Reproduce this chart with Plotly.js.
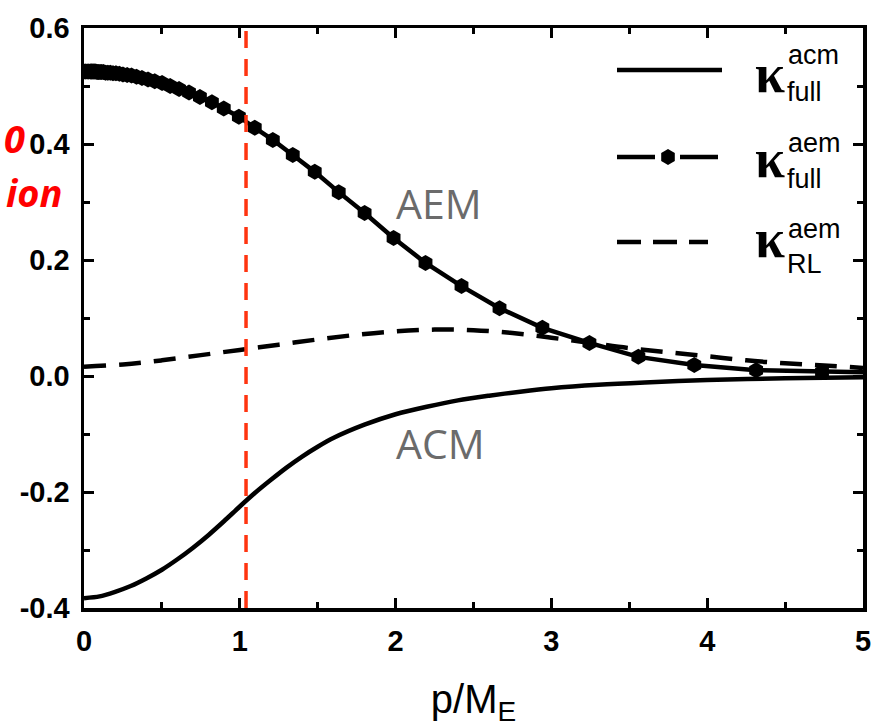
<!DOCTYPE html>
<html><head><meta charset="utf-8">
<script src="https://cdn.plot.ly/plotly-3.0.1.min.js"></script>
<style>html,body{margin:0;padding:0;background:#fff}#chart{width:875px;height:727px}</style>
</head><body><div id="chart"></div>
<script>
// kappa_full^aem (solid line with hexagon markers)
const aemX = [0.000, 0.010, 0.020, 0.030, 0.040, 0.046, 0.051, 0.057, 0.063, 0.069, 0.076, 0.084, 0.093, 0.103, 0.113, 0.125, 0.138, 0.153, 0.169, 0.186, 0.205, 0.227, 0.250, 0.277, 0.305, 0.337, 0.372, 0.411, 0.454, 0.501, 0.553, 0.610, 0.674, 0.744, 0.821, 0.897, 0.994, 1.096, 1.212, 1.340, 1.481, 1.635, 1.801, 1.987, 2.192, 2.423, 2.667, 2.942, 3.244, 3.558, 3.917, 4.314, 4.737, 5.230];
const aemY = [0.525, 0.525, 0.525, 0.525, 0.525, 0.525, 0.525, 0.525, 0.525, 0.525, 0.525, 0.524, 0.524, 0.524, 0.524, 0.524, 0.523, 0.523, 0.523, 0.522, 0.522, 0.521, 0.520, 0.519, 0.518, 0.516, 0.514, 0.511, 0.508, 0.505, 0.500, 0.495, 0.489, 0.481, 0.472, 0.461, 0.447, 0.428, 0.407, 0.381, 0.352, 0.317, 0.281, 0.238, 0.195, 0.155, 0.117, 0.083, 0.057, 0.033, 0.019, 0.010, 0.007, 0.005];
// kappa_full^acm (solid line)
const acmX = [0.0, 0.1, 0.2, 0.3, 0.4, 0.5, 0.6, 0.7, 0.8, 0.9, 1.0, 1.1, 1.2, 1.3, 1.4, 1.5, 1.6, 1.8, 2.0, 2.2, 2.4, 2.6, 2.8, 3.0, 3.3, 3.6, 4.0, 4.5, 5.0];
const acmY = [-0.383, -0.380, -0.372, -0.362, -0.349, -0.334, -0.316, -0.296, -0.274, -0.250, -0.225, -0.201, -0.179, -0.158, -0.139, -0.122, -0.107, -0.084, -0.066, -0.053, -0.042, -0.034, -0.027, -0.021, -0.015, -0.011, -0.007, -0.004, -0.002];
// kappa_RL^aem (dashed line)
const rlX = [0.0, 0.25, 0.5, 0.75, 1.0, 1.25, 1.5, 1.75, 2.0, 2.25, 2.5, 2.75, 3.0, 3.25, 3.5, 3.75, 4.0, 4.25, 4.5, 4.75, 5.0];
const rlY = [0.016, 0.020, 0.027, 0.036, 0.045, 0.054, 0.063, 0.071, 0.077, 0.080, 0.079, 0.074, 0.066, 0.057, 0.048, 0.041, 0.034, 0.027, 0.022, 0.018, 0.014];

const xTickVals = [0, 1, 2, 3, 4, 5];
const xTickText = ['0', '1', '2', '3', '4', '5'];
const yTickVals = [-0.4, -0.2, 0.0, 0.2, 0.4, 0.6];
const yTickText = ['-0.4', '-0.2', '0.0', '0.2', '0.4', '0.6'];
const markerX = 1.04;

const traces = [
  {x: acmX, y: acmY, mode: 'lines', line: {color: '#000', width: 4.5, shape: 'spline', smoothing: 0.8}, showlegend: false},
  {x: aemX, y: aemY, mode: 'lines+markers', line: {color: '#000', width: 4.5}, marker: {symbol: 'hexagon', size: 16, color: '#000'}, showlegend: false, cliponaxis: true},
  {x: rlX, y: rlY, mode: 'lines', line: {color: '#000', width: 4.5, dash: '22px,13px', shape: 'spline'}, showlegend: false}
];

const tickFont = {family: 'Liberation Sans, Arial, sans-serif', size: 29, color: '#000', weight: 'bold'};
const axisCommon = {
  showgrid: false, zeroline: false, showline: true, linecolor: '#000', linewidth: 3.5,
  mirror: 'allticks', ticks: 'inside', ticklen: 10, tickwidth: 3, tickcolor: '#000',
  tickfont: tickFont, ticklabelstandoff: 5
};

function px2x(p) { return (p - 84) / 779; }
function px2y(p) { return (608 - p) / 580; }

const shapes = [
  {type: 'line', xref: 'x', yref: 'paper', x0: markerX, x1: markerX, y0: 0, y1: 1, layer: 'above',
   line: {color: '#ff3410', width: 3.5, dash: '17px,11px'}},
  // legend samples
  {type: 'line', xref: 'paper', yref: 'paper', x0: px2x(617), x1: px2x(722), y0: px2y(70), y1: px2y(70), line: {color: '#000', width: 4.5}},
  {type: 'line', xref: 'paper', yref: 'paper', x0: px2x(617), x1: px2x(655), y0: px2y(157), y1: px2y(157), line: {color: '#000', width: 4.5}},
  {type: 'line', xref: 'paper', yref: 'paper', x0: px2x(680), x1: px2x(718), y0: px2y(157), y1: px2y(157), line: {color: '#000', width: 4.5}},
  {type: 'path', xref: 'paper', yref: 'paper', xsizemode: 'pixel', ysizemode: 'pixel', xanchor: px2x(668), yanchor: px2y(157),
   path: 'M0,8 L6.8,4 L6.8,-4 L0,-8 L-6.8,-4 L-6.8,4 Z', fillcolor: '#000', line: {color: '#000', width: 0}},
  {type: 'line', xref: 'paper', yref: 'paper', x0: px2x(617), x1: px2x(708), y0: px2y(242), y1: px2y(242), line: {color: '#000', width: 4.5, dash: '24px,12px'}}
];

const kFont = {family: 'Liberation Serif, serif', size: 54, color: '#000', weight: 'bold'};
const sFont = {family: 'Liberation Sans, Arial, sans-serif', size: 27, color: '#000'};
function ann(text, xp, yp, font, xanchor) {
  return {text: text, xref: 'paper', yref: 'paper', x: px2x(xp), y: px2y(yp), showarrow: false,
          xanchor: xanchor || 'left', yanchor: 'middle', font: font};
}
const annotations = [
  ann('κ', 753, 74, kFont), ann('acm', 786, 55, sFont), ann('full', 785, 92, sFont),
  ann('κ', 753, 159, kFont), ann('aem', 786, 143, sFont), ann('full', 785, 179, sFont),
  ann('κ', 753, 239, kFont), ann('aem', 786, 229, sFont), ann('RL', 785, 264, sFont),
  ann('AEM', 439, 203, {family: 'Open Sans, sans-serif', size: 41, color: '#6b6b6b'}, 'center'),
  ann('ACM', 440, 443, {family: 'Open Sans, sans-serif', size: 41, color: '#6b6b6b'}, 'center'),
  ann('<b><i>0</i></b>', 27, 138, {family: 'Open Sans, sans-serif', size: 38, color: '#ff0000'}, 'right'),
  ann('<b><i>ion</i></b>', 64, 192, {family: 'Open Sans, sans-serif', size: 38, color: '#ff0000'}, 'right')
];

const layout = {
  width: 875, height: 727,
  margin: {l: 84, r: 12, t: 28, b: 119},
  paper_bgcolor: '#fff', plot_bgcolor: '#fff',
  showlegend: false,
  xaxis: Object.assign({}, axisCommon, {
    range: [0, 5], tickvals: xTickVals, ticktext: xTickText,
    minor: {dtick: 0.5, ticks: 'inside', ticklen: 6, tickwidth: 3, tickcolor: '#000'},
    title: {text: 'p/M<sub>E</sub>', font: {family: 'Liberation Sans, Arial, sans-serif', size: 40, color: '#000'}, standoff: 30}
  }),
  yaxis: Object.assign({}, axisCommon, {
    range: [-0.4, 0.6], tickvals: yTickVals, ticktext: yTickText,
    minor: {dtick: 0.1, tick0: 0, ticks: 'inside', ticklen: 6, tickwidth: 3, tickcolor: '#000'}
  }),
  shapes: shapes,
  annotations: annotations
};

Plotly.newPlot('chart', traces, layout, {displayModeBar: false, staticPlot: true});
</script>
</body></html>
